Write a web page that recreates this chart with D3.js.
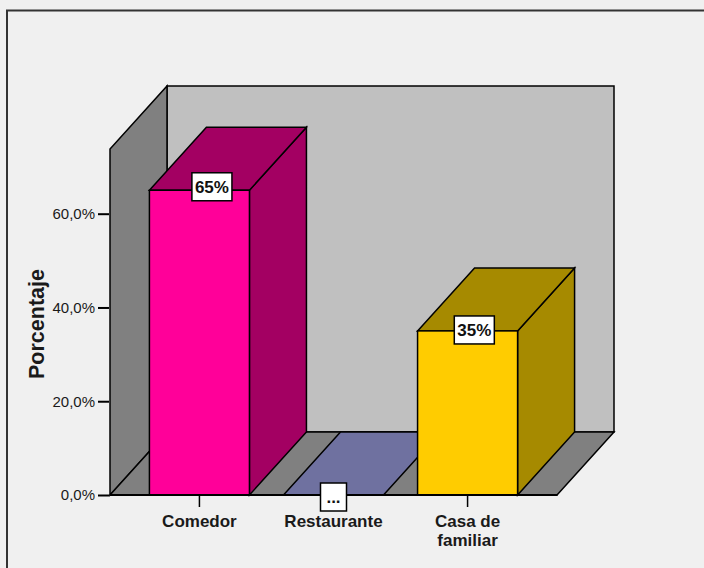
<!DOCTYPE html>
<html>
<head>
<meta charset="utf-8">
<script src="https://cdn.jsdelivr.net/npm/d3@7"></script>
<style>
  html, body { margin: 0; padding: 0; background: #f0f0f0; }
  svg { display: block; }
  text { font-family: Arial, "Liberation Sans", sans-serif; }
</style>
</head>
<body>
<svg id="chart" width="704" height="568"></svg>
<script>
// Data
const categories = ["Comedor", "Restaurante", "Casa de familiar"];
const values = [65, 0, 35];
const valueLabels = ["65%", "...", "35%"];
const frontColors = ["#ff0099", "#7e80b8", "#ffcc00"];
const shadeColors = ["#a30062", "#6f71a0", "#a68a00"];
const yTicks = [0, 20, 40, 60];

const svg = d3.select("#chart");
const W = 704, H = 568;

// Plot frame (front plane) and 3D depth offset
const plotLeft = 110, plotRight = 557, plotBottom = 495, plotTop = 149;
const depthX = 57, depthY = -63;

const x = d3.scaleBand()
  .domain(categories)
  .range([plotLeft, plotRight])
  .paddingInner(0.254)
  .paddingOuter(0.294);

const y = d3.scaleLinear()
  .domain([0, 73.8])
  .range([plotBottom, plotTop]);

// Background and outer border
svg.append("rect").attr("width", W).attr("height", H).attr("fill", "#f0f0f0");
svg.append("rect")
  .attr("x", 7).attr("y", 10.5)
  .attr("width", 760).attr("height", 640)
  .attr("fill", "none").attr("stroke", "#333").attr("stroke-width", 2);

const line = pts => "M" + pts.map(p => p.join(",")).join("L") + "Z";
function styled(sel) {
  return sel.attr("stroke", "#000").attr("stroke-width", 1.5).attr("stroke-linejoin", "miter");
}

const y0 = y(0), yTop = y.range()[1];

// Back wall
styled(svg.append("path")
  .attr("d", line([[plotLeft + depthX, yTop + depthY], [plotRight + depthX, yTop + depthY],
                   [plotRight + depthX, y0 + depthY], [plotLeft + depthX, y0 + depthY]]))
  .attr("fill", "#c0c0c0"));

// Left wall
styled(svg.append("path")
  .attr("d", line([[plotLeft, y0], [plotLeft, yTop], [plotLeft + depthX, yTop + depthY], [plotLeft + depthX, y0 + depthY]]))
  .attr("fill", "#808080"));

// Floor
styled(svg.append("path")
  .attr("d", line([[plotLeft, y0], [plotRight, y0], [plotRight + depthX, y0 + depthY], [plotLeft + depthX, y0 + depthY]]))
  .attr("fill", "#808080"));

// Bars, drawn left to right so nearer faces overlap correctly
const bars = svg.append("g");
categories.forEach((c, i) => {
  const x0 = x(c), x1 = x(c) + x.bandwidth();
  const yt = y(values[i]);
  const g = bars.append("g");
  if (values[i] > 0) {
    // right side face
    styled(g.append("path")
      .attr("d", line([[x1, yt], [x1 + depthX, yt + depthY], [x1 + depthX, y0 + depthY], [x1, y0]]))
      .attr("fill", shadeColors[i]));
  }
  // top face
  styled(g.append("path")
    .attr("d", line([[x0, yt], [x1, yt], [x1 + depthX, yt + depthY], [x0 + depthX, yt + depthY]]))
    .attr("fill", shadeColors[i]));
  if (values[i] > 0) {
    // front face
    styled(g.append("rect")
      .attr("x", x0).attr("y", yt)
      .attr("width", x.bandwidth()).attr("height", y0 - yt)
      .attr("fill", frontColors[i]));
  }
});

// Y axis
const yAxis = d3.axisLeft(y)
  .tickValues(yTicks)
  .tickSize(11)
  .tickPadding(3)
  .tickFormat(d => d3.format(".1f")(d).replace(".", ",") + "%");
const ya = svg.append("g").attr("transform", `translate(${plotLeft - 1},0)`).call(yAxis);
ya.select(".domain").remove();
ya.selectAll(".tick line").attr("stroke", "#000").attr("stroke-width", 2);
ya.selectAll(".tick text")
  .attr("font-size", 15).attr("fill", "#1a1a1a")
  .style("font-family", "Arial, 'Liberation Sans', sans-serif");

// Baseline across the front
svg.append("line")
  .attr("x1", plotLeft).attr("x2", plotRight + 0.5)
  .attr("y1", y0).attr("y2", y0)
  .attr("stroke", "#000").attr("stroke-width", 2);

// X ticks and category labels
const xa = svg.append("g");
categories.forEach(c => {
  const cx = x(c) + x.bandwidth() / 2;
  xa.append("line")
    .attr("x1", cx).attr("x2", cx)
    .attr("y1", y0).attr("y2", y0 + 12)
    .attr("stroke", "#000").attr("stroke-width", 1.5);
  const words = c === "Casa de familiar" ? ["Casa de", "familiar"] : [c];
  const t = xa.append("text")
    .attr("x", cx).attr("y", y0 + 32)
    .attr("text-anchor", "middle")
    .attr("font-size", 17).attr("font-weight", "bold").attr("fill", "#1a1a1a");
  words.forEach((w, k) => {
    t.append("tspan").attr("x", cx).attr("dy", k === 0 ? 0 : 18.5).text(w);
  });
});

// Y axis title
svg.append("text")
  .attr("transform", "translate(44,324) rotate(-90)")
  .attr("text-anchor", "middle")
  .attr("font-size", 21.5).attr("font-weight", "bold").attr("fill", "#1a1a1a")
  .text("Porcentaje");

// Value labels in white boxes
const lbl = svg.append("g");
categories.forEach((c, i) => {
  const yt = y(values[i]);
  const h = y0 - yt;
  const cx = x(c) + x.bandwidth() / 2 + 0.041 * h;
  const cy = yt + 2 - 0.018 * h;
  const g = lbl.append("g");
  const box = g.append("rect");
  const t = g.append("text")
    .attr("x", cx).attr("y", cy + 6)
    .attr("text-anchor", "middle")
    .attr("font-size", 17).attr("font-weight", "bold").attr("fill", "#111")
    .text(valueLabels[i]);
  const tw = t.node().getComputedTextLength();
  const bw = Math.max(tw + 6, 26), bh = 28;
  box.attr("x", cx - bw / 2).attr("y", cy - bh / 2)
    .attr("width", bw).attr("height", bh)
    .attr("fill", "#fff").attr("stroke", "#000").attr("stroke-width", 1.5);
});
</script>
</body>
</html>
